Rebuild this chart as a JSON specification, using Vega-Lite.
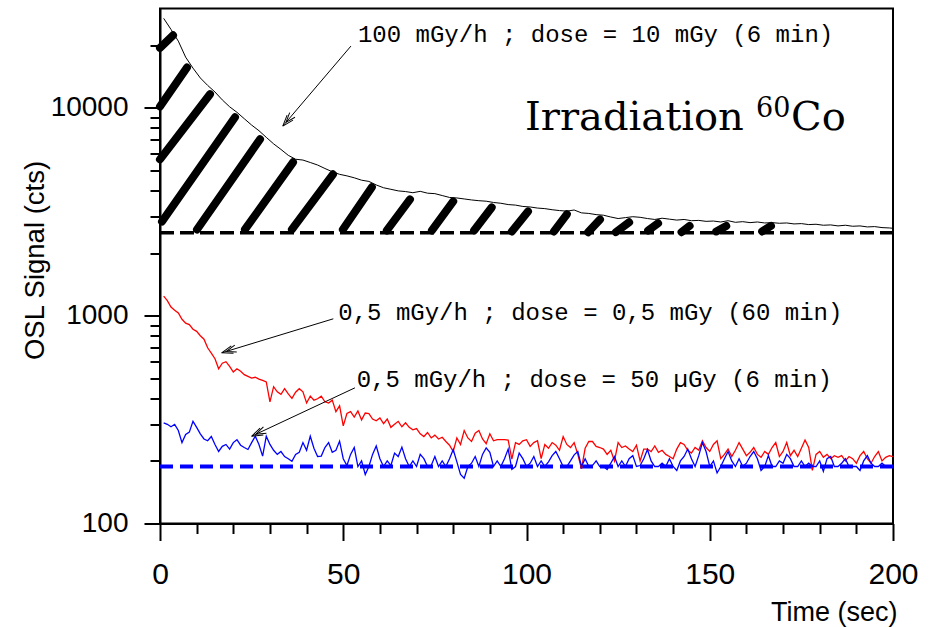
{
  "$schema": "https://vega.github.io/schema/vega-lite/v6.json",
  "width": 733,
  "height": 515,
  "autosize": {"type": "none"},
  "padding": {"left": 160, "top": 8.5, "right": 39, "bottom": 103.5},
  "background": "white",
  "config": {
    "view": {"stroke": "black", "strokeWidth": 2},
    "axis": {"labelFont": "Liberation Sans", "titleFont": "Liberation Sans", "labelColor": "black", "titleColor": "black", "domainColor": "black", "tickColor": "black", "grid": false, "domainWidth": 2, "tickWidth": 2, "titleFontWeight": "normal"}
  },
  "datasets": {
    "black": [
      {"t":1,"v":26900},{"t":3,"v":23800},{"t":5,"v":20900},{"t":7,"v":17500},{"t":9,"v":15500},{"t":11,"v":13900},{"t":13,"v":12800},{"t":15,"v":11900},{"t":17,"v":10900},{"t":19,"v":10100},
      {"t":21,"v":9500},{"t":23,"v":8850},{"t":25,"v":8250},{"t":27,"v":7750},{"t":29,"v":7200},{"t":31,"v":6700},{"t":33,"v":6300},{"t":35,"v":5900},{"t":37,"v":5650},{"t":39,"v":5600},
      {"t":41,"v":5450},{"t":43,"v":5300},{"t":45,"v":5100},{"t":47,"v":4920},{"t":49,"v":4780},{"t":51,"v":4700},{"t":53,"v":4600},{"t":55,"v":4480},{"t":57,"v":4420},{"t":59,"v":4250},
      {"t":61,"v":4120},{"t":63,"v":4050},{"t":65,"v":3980},{"t":67,"v":3950},{"t":69,"v":3900},{"t":71,"v":3960},{"t":73,"v":3880},{"t":75,"v":3860},{"t":77,"v":3780},{"t":79,"v":3700},
      {"t":81,"v":3680},{"t":83,"v":3640},{"t":85,"v":3600},{"t":87,"v":3570},{"t":89,"v":3550},{"t":91,"v":3500},{"t":93,"v":3470},{"t":95,"v":3420},{"t":97,"v":3400},{"t":99,"v":3350},
      {"t":101,"v":3330},{"t":103,"v":3290},{"t":105,"v":3270},{"t":107,"v":3230},{"t":109,"v":3200},{"t":111,"v":3180},{"t":113,"v":3220},{"t":115,"v":3120},{"t":117,"v":3100},{"t":119,"v":3060},
      {"t":121,"v":3040},{"t":123,"v":2980},{"t":125,"v":2930},{"t":127,"v":2960},{"t":129,"v":2990},{"t":131,"v":2970},{"t":133,"v":2930},{"t":135,"v":2900},{"t":137,"v":2940},{"t":139,"v":2910},
      {"t":141,"v":2880},{"t":143,"v":2900},{"t":145,"v":2860},{"t":147,"v":2870},{"t":149,"v":2840},{"t":151,"v":2850},{"t":153,"v":2820},{"t":155,"v":2860},{"t":157,"v":2810},{"t":159,"v":2830},
      {"t":161,"v":2800},{"t":163,"v":2820},{"t":165,"v":2790},{"t":167,"v":2800},{"t":169,"v":2780},{"t":171,"v":2790},{"t":173,"v":2760},{"t":175,"v":2770},{"t":177,"v":2740},{"t":179,"v":2750},
      {"t":181,"v":2720},{"t":183,"v":2730},{"t":185,"v":2700},{"t":187,"v":2720},{"t":189,"v":2690},{"t":191,"v":2700},{"t":193,"v":2670},{"t":195,"v":2680},{"t":197,"v":2650},{"t":199,"v":2640},{"t":200,"v":2630}
    ],
    "red": [
      {"t":1,"v":1240},{"t":2,"v":1180},{"t":3,"v":1100},{"t":4,"v":1060},{"t":5,"v":1030},{"t":6,"v":960},{"t":7,"v":920},{"t":8,"v":905},{"t":9,"v":860},{"t":10,"v":840},
      {"t":11,"v":800},{"t":12,"v":770},{"t":13,"v":700},{"t":14,"v":660},{"t":15,"v":620},{"t":16,"v":555},{"t":17,"v":590},{"t":18,"v":600},{"t":19,"v":570},{"t":20,"v":535},
      {"t":21,"v":555},{"t":22,"v":540},{"t":23,"v":520},{"t":24,"v":510},{"t":25,"v":500},{"t":26,"v":505},{"t":27,"v":495},{"t":28,"v":488},{"t":29,"v":480},{"t":30,"v":385},
      {"t":31,"v":455},{"t":32,"v":430},{"t":33,"v":418},{"t":34,"v":445},{"t":35,"v":420},{"t":36,"v":400},{"t":37,"v":428},{"t":38,"v":445},{"t":39,"v":430},{"t":40,"v":380},
      {"t":41,"v":410},{"t":42,"v":392},{"t":43,"v":398},{"t":44,"v":410},{"t":45,"v":385},{"t":46,"v":380},{"t":47,"v":392},{"t":48,"v":345},{"t":49,"v":368},{"t":50,"v":295},
      {"t":51,"v":338},{"t":52,"v":345},{"t":53,"v":325},{"t":54,"v":348},{"t":55,"v":315},{"t":56,"v":340},{"t":57,"v":338},{"t":58,"v":318},{"t":59,"v":312},{"t":60,"v":322},
      {"t":61,"v":302},{"t":62,"v":318},{"t":63,"v":290},{"t":64,"v":300},{"t":65,"v":310},{"t":66,"v":292},{"t":67,"v":305},{"t":68,"v":290},{"t":69,"v":282},{"t":70,"v":286},
      {"t":71,"v":270},{"t":72,"v":262},{"t":73,"v":274},{"t":74,"v":258},{"t":75,"v":266},{"t":76,"v":255},{"t":77,"v":260},{"t":78,"v":248},{"t":79,"v":238},{"t":80,"v":222},
      {"t":81,"v":258},{"t":82,"v":240},{"t":83,"v":280},{"t":84,"v":258},{"t":85,"v":248},{"t":86,"v":272},{"t":87,"v":280},{"t":88,"v":255},{"t":89,"v":242},{"t":90,"v":270},
      {"t":91,"v":250},{"t":92,"v":253},{"t":93,"v":253},{"t":94,"v":253},{"t":95,"v":252},{"t":96,"v":204},{"t":97,"v":245},{"t":98,"v":240},{"t":99,"v":250},{"t":100,"v":253},
      {"t":101,"v":235},{"t":102,"v":245},{"t":103,"v":250},{"t":104,"v":205},{"t":105,"v":240},{"t":106,"v":230},{"t":107,"v":245},{"t":108,"v":238},{"t":109,"v":225},{"t":110,"v":262},
      {"t":111,"v":240},{"t":112,"v":232},{"t":113,"v":245},{"t":114,"v":215},{"t":115,"v":183},{"t":116,"v":230},{"t":117,"v":248},{"t":118,"v":248},{"t":119,"v":235},{"t":120,"v":232},
      {"t":121,"v":228},{"t":122,"v":215},{"t":123,"v":225},{"t":124,"v":200},{"t":125,"v":245},{"t":126,"v":232},{"t":127,"v":236},{"t":128,"v":228},{"t":129,"v":222},{"t":130,"v":238},
      {"t":131,"v":200},{"t":132,"v":228},{"t":133,"v":228},{"t":134,"v":222},{"t":135,"v":236},{"t":136,"v":220},{"t":137,"v":225},{"t":138,"v":215},{"t":139,"v":210},{"t":140,"v":205},
      {"t":141,"v":228},{"t":142,"v":245},{"t":143,"v":240},{"t":144,"v":225},{"t":145,"v":218},{"t":146,"v":232},{"t":147,"v":225},{"t":148,"v":250},{"t":149,"v":232},{"t":150,"v":222},
      {"t":151,"v":240},{"t":152,"v":250},{"t":153,"v":205},{"t":154,"v":215},{"t":155,"v":228},{"t":156,"v":210},{"t":157,"v":225},{"t":158,"v":245},{"t":159,"v":228},{"t":160,"v":212},
      {"t":161,"v":220},{"t":162,"v":232},{"t":163,"v":215},{"t":164,"v":208},{"t":165,"v":222},{"t":166,"v":215},{"t":167,"v":232},{"t":168,"v":245},{"t":169,"v":210},{"t":170,"v":222},
      {"t":171,"v":245},{"t":172,"v":212},{"t":173,"v":225},{"t":174,"v":210},{"t":175,"v":230},{"t":176,"v":252},{"t":177,"v":232},{"t":178,"v":180},{"t":179,"v":215},{"t":180,"v":222},
      {"t":181,"v":208},{"t":182,"v":215},{"t":183,"v":205},{"t":184,"v":212},{"t":185,"v":208},{"t":186,"v":212},{"t":187,"v":200},{"t":188,"v":210},{"t":189,"v":205},{"t":190,"v":195},
      {"t":191,"v":212},{"t":192,"v":222},{"t":193,"v":205},{"t":194,"v":195},{"t":195,"v":210},{"t":196,"v":222},{"t":197,"v":200},{"t":198,"v":208},{"t":199,"v":212},{"t":200,"v":210}
    ],
    "blue": [
      {"t":1,"v":305},{"t":2,"v":300},{"t":3,"v":292},{"t":4,"v":300},{"t":5,"v":280},{"t":6,"v":245},{"t":7,"v":268},{"t":8,"v":275},{"t":9,"v":310},{"t":10,"v":290},
      {"t":11,"v":270},{"t":12,"v":255},{"t":13,"v":250},{"t":14,"v":262},{"t":15,"v":240},{"t":16,"v":222},{"t":17,"v":235},{"t":18,"v":240},{"t":19,"v":228},{"t":20,"v":245},
      {"t":21,"v":253},{"t":22,"v":238},{"t":23,"v":232},{"t":24,"v":227},{"t":25,"v":245},{"t":26,"v":263},{"t":27,"v":240},{"t":28,"v":211},{"t":29,"v":263},{"t":30,"v":240},
      {"t":31,"v":225},{"t":32,"v":215},{"t":33,"v":222},{"t":34,"v":210},{"t":35,"v":205},{"t":36,"v":199},{"t":37,"v":215},{"t":38,"v":220},{"t":39,"v":245},{"t":40,"v":225},
      {"t":41,"v":263},{"t":42,"v":230},{"t":43,"v":210},{"t":44,"v":211},{"t":45,"v":232},{"t":46,"v":245},{"t":47,"v":220},{"t":48,"v":225},{"t":49,"v":249},{"t":50,"v":205},
      {"t":51,"v":190},{"t":52,"v":215},{"t":53,"v":232},{"t":54,"v":188},{"t":55,"v":200},{"t":56,"v":172},{"t":57,"v":188},{"t":58,"v":215},{"t":59,"v":236},{"t":60,"v":205},
      {"t":61,"v":188},{"t":62,"v":200},{"t":63,"v":190},{"t":64,"v":218},{"t":65,"v":210},{"t":66,"v":233},{"t":67,"v":205},{"t":68,"v":188},{"t":69,"v":200},{"t":70,"v":188},
      {"t":71,"v":215},{"t":72,"v":205},{"t":73,"v":188},{"t":74,"v":190},{"t":75,"v":210},{"t":76,"v":188},{"t":77,"v":200},{"t":78,"v":188},{"t":79,"v":205},{"t":80,"v":227},
      {"t":81,"v":198},{"t":82,"v":172},{"t":83,"v":165},{"t":84,"v":188},{"t":85,"v":195},{"t":86,"v":210},{"t":87,"v":188},{"t":88,"v":215},{"t":89,"v":231},{"t":90,"v":220},
      {"t":91,"v":188},{"t":92,"v":200},{"t":93,"v":188},{"t":94,"v":205},{"t":95,"v":228},{"t":96,"v":182},{"t":97,"v":188},{"t":98,"v":218},{"t":99,"v":205},{"t":100,"v":188},
      {"t":101,"v":195},{"t":102,"v":210},{"t":103,"v":188},{"t":104,"v":200},{"t":105,"v":188},{"t":106,"v":198},{"t":107,"v":212},{"t":108,"v":222},{"t":109,"v":205},{"t":110,"v":188},
      {"t":111,"v":188},{"t":112,"v":200},{"t":113,"v":214},{"t":114,"v":222},{"t":115,"v":188},{"t":116,"v":205},{"t":117,"v":188},{"t":118,"v":190},{"t":119,"v":200},{"t":120,"v":188},
      {"t":121,"v":188},{"t":122,"v":182},{"t":123,"v":195},{"t":124,"v":210},{"t":125,"v":188},{"t":126,"v":200},{"t":127,"v":188},{"t":128,"v":205},{"t":129,"v":212},{"t":130,"v":188},
      {"t":131,"v":190},{"t":132,"v":205},{"t":133,"v":227},{"t":134,"v":200},{"t":135,"v":188},{"t":136,"v":188},{"t":137,"v":195},{"t":138,"v":188},{"t":139,"v":205},{"t":140,"v":188},
      {"t":141,"v":180},{"t":142,"v":200},{"t":143,"v":210},{"t":144,"v":228},{"t":145,"v":205},{"t":146,"v":188},{"t":147,"v":212},{"t":148,"v":245},{"t":149,"v":222},{"t":150,"v":188},
      {"t":151,"v":200},{"t":152,"v":175},{"t":153,"v":188},{"t":154,"v":205},{"t":155,"v":222},{"t":156,"v":200},{"t":157,"v":188},{"t":158,"v":205},{"t":159,"v":188},{"t":160,"v":195},
      {"t":161,"v":210},{"t":162,"v":222},{"t":163,"v":205},{"t":164,"v":180},{"t":165,"v":188},{"t":166,"v":212},{"t":167,"v":188},{"t":168,"v":188},{"t":169,"v":200},{"t":170,"v":195},
      {"t":171,"v":215},{"t":172,"v":205},{"t":173,"v":188},{"t":174,"v":188},{"t":175,"v":200},{"t":176,"v":188},{"t":177,"v":195},{"t":178,"v":188},{"t":179,"v":188},{"t":180,"v":200},
      {"t":181,"v":178},{"t":182,"v":205},{"t":183,"v":210},{"t":184,"v":188},{"t":185,"v":188},{"t":186,"v":195},{"t":187,"v":205},{"t":188,"v":188},{"t":189,"v":188},{"t":190,"v":188},
      {"t":191,"v":180},{"t":192,"v":200},{"t":193,"v":212},{"t":194,"v":195},{"t":195,"v":188},{"t":196,"v":188},{"t":197,"v":195},{"t":198,"v":188}
    ],
    "hatch": [
      {"t":0,"v":19400,"t2":3.55,"v2":22300},
      {"t":0,"v":10140,"t2":7.37,"v2":15600},
      {"t":0,"v":5640,"t2":13.64,"v2":11600},
      {"t":0.55,"v":2836,"t2":20.46,"v2":9000},
      {"t":10.1,"v":2597,"t2":27.29,"v2":7050},
      {"t":23.19,"v":2597,"t2":36.29,"v2":5460},
      {"t":36.0,"v":2597,"t2":47.2,"v2":4780},
      {"t":49.9,"v":2597,"t2":57.8,"v2":4140},
      {"t":61.9,"v":2568,"t2":68.2,"v2":3620},
      {"t":74.2,"v":2568,"t2":80.0,"v2":3540},
      {"t":85.7,"v":2568,"t2":90.5,"v2":3310},
      {"t":96.0,"v":2540,"t2":100.4,"v2":3170},
      {"t":107.5,"v":2540,"t2":111.0,"v2":3070},
      {"t":116.8,"v":2520,"t2":120.05,"v2":2900},
      {"t":124.4,"v":2520,"t2":128.0,"v2":2810},
      {"t":133.2,"v":2568,"t2":135.9,"v2":2780},
      {"t":142.3,"v":2520,"t2":144.5,"v2":2700},
      {"t":151.8,"v":2540,"t2":154.5,"v2":2700},
      {"t":164.3,"v":2540,"t2":166.7,"v2":2700}
    ],
    "baseBlack": [{"t":0,"v":2500,"t2":200}],
    "baseBlue": [{"t":0,"v":188,"t2":200}],
    "arrows": [
      {"id":1,"t":33.5,"v":8155,"t2":52.1,"v2":19790},
      {"id":2,"t":16.83,"v":662.2,"t2":47.29,"v2":965.1},
      {"id":3,"t":24.99,"v":262.8,"t2":53.19,"v2":449.4}
    ],
    "notes": [
      {"t":54.0,"v":20620,"label":"100 mGy/h ; dose = 10 mGy (6 min)"},
      {"t":48.65,"v":957.6,"label":"0,5 mGy/h ; dose = 0,5 mGy (60 min)"},
      {"t":53.65,"v":454.4,"label":"0,5 mGy/h ; dose = 50 µGy (6 min)"}
    ],
    "title": [{"t":99.6,"v":7801}]
  },
  "layer": [
    {
      "encoding": {
        "x": {"field": "t", "type": "quantitative", "scale": {"domain": [0, 200], "nice": false, "zero": false},
          "axis": {"title": "Time (sec)", "values": [0, 50, 100, 150, 200], "tickSize": 17, "labelPadding": 19, "labelFontSize": 30, "labelFlush": false, "titleFontSize": 27, "titleAlign": "right", "titleX": 737, "titleY": 97, "titleBaseline": "alphabetic", "orient": "bottom"}},
        "y": {"field": "v", "type": "quantitative", "scale": {"type": "log", "domain": [100, 30000], "nice": false},
          "axis": {"title": "OSL Signal (cts)", "values": [100, 1000, 10000], "format": "d", "tickSize": 16, "labelPadding": 16, "labelFontSize": 28, "titleFontSize": 27.5, "titleX": -117, "titleY": 251.5, "titleAngle": 270, "titleAlign": "center", "titleBaseline": "alphabetic", "orient": "left"}}
      },
      "layer": [
        {"data": {"name": "hatch"}, "mark": {"type": "rule", "color": "black", "strokeWidth": 8, "strokeCap": "round"},
         "encoding": {"x2": {"field": "t2"}, "y2": {"field": "v2"}}},
        {"data": {"name": "baseBlack"}, "mark": {"type": "rule", "color": "black", "strokeWidth": 3.5, "strokeDash": [14, 6]},
         "encoding": {"x2": {"field": "t2"}}},
        {"data": {"name": "baseBlue"}, "mark": {"type": "rule", "color": "#0000ff", "strokeWidth": 4, "strokeDash": [13, 7]},
         "encoding": {"x2": {"field": "t2"}}},
        {"data": {"name": "black"}, "mark": {"type": "line", "color": "black", "strokeWidth": 1}, "encoding": {}},
        {"data": {"name": "red"}, "mark": {"type": "line", "color": "#ff0000", "strokeWidth": 1.3}, "encoding": {}},
        {"data": {"name": "blue"}, "mark": {"type": "line", "color": "#0000ff", "strokeWidth": 1.3}, "encoding": {}},
        {"data": {"name": "arrows"}, "mark": {"type": "rule", "color": "black", "strokeWidth": 1},
         "encoding": {"x2": {"field": "t2"}, "y2": {"field": "v2"}}},
        {"data": {"name": "arrows"}, "transform": [{"filter": "datum.id == 1"}],
         "mark": {"type": "point", "shape": "M0,0L-1.6,-0.55M0,0L-1.6,0.55M-0.7,0L-2.1,-0.5M-0.7,0L-2.1,0.5", "size": 196, "angle": 130.5, "filled": false, "stroke": "black", "strokeWidth": 1, "opacity": 1}},
        {"data": {"name": "arrows"}, "transform": [{"filter": "datum.id == 2"}],
         "mark": {"type": "point", "shape": "M0,0L-1.6,-0.55M0,0L-1.6,0.55M-0.7,0L-2.1,-0.5M-0.7,0L-2.1,0.5", "size": 196, "angle": 163.1, "filled": false, "stroke": "black", "strokeWidth": 1, "opacity": 1}},
        {"data": {"name": "arrows"}, "transform": [{"filter": "datum.id == 3"}],
         "mark": {"type": "point", "shape": "M0,0L-1.6,-0.55M0,0L-1.6,0.55M-0.7,0L-2.1,-0.5M-0.7,0L-2.1,0.5", "size": 196, "angle": 154.9, "filled": false, "stroke": "black", "strokeWidth": 1, "opacity": 1}},
        {"data": {"name": "notes"}, "mark": {"type": "text", "align": "left", "baseline": "alphabetic", "font": "Liberation Mono", "fontSize": 24, "fontWeight": "normal", "color": "black"},
         "encoding": {"text": {"field": "label"}}},
        {"data": {"name": "title"}, "mark": {"type": "text", "text": "Irradiation", "align": "left", "baseline": "alphabetic", "font": "DejaVu Serif", "fontSize": 40, "color": "black"}},
        {"data": {"name": "title"}, "mark": {"type": "text", "text": "60", "align": "left", "baseline": "alphabetic", "font": "DejaVu Serif", "fontSize": 27, "dx": 231, "dy": -12.7, "color": "black"}},
        {"data": {"name": "title"}, "mark": {"type": "text", "text": "Co", "align": "left", "baseline": "alphabetic", "font": "DejaVu Serif", "fontSize": 40, "dx": 266, "color": "black"}}
      ]
    },
    {
      "data": {"name": "baseBlack"},
      "mark": {"type": "point", "opacity": 0},
      "encoding": {
        "x": {"field": "t", "type": "quantitative", "scale": {"domain": [0, 200], "nice": false, "zero": false},
          "axis": {"orient": "bottom", "values": [10,20,30,40,60,70,80,90,110,120,130,140,160,170,180,190], "labels": false, "tickSize": 10, "domain": false, "title": null}},
        "y": {"field": "v", "type": "quantitative", "scale": {"type": "log", "domain": [100, 30000], "nice": false},
          "axis": {"orient": "left", "values": [200,300,400,500,600,700,800,900,2000,3000,4000,5000,6000,7000,8000,9000,20000], "labels": false, "tickSize": 10, "domain": false, "title": null}}
      }
    }
  ],
  "resolve": {"axis": {"x": "independent", "y": "independent"}}
}
